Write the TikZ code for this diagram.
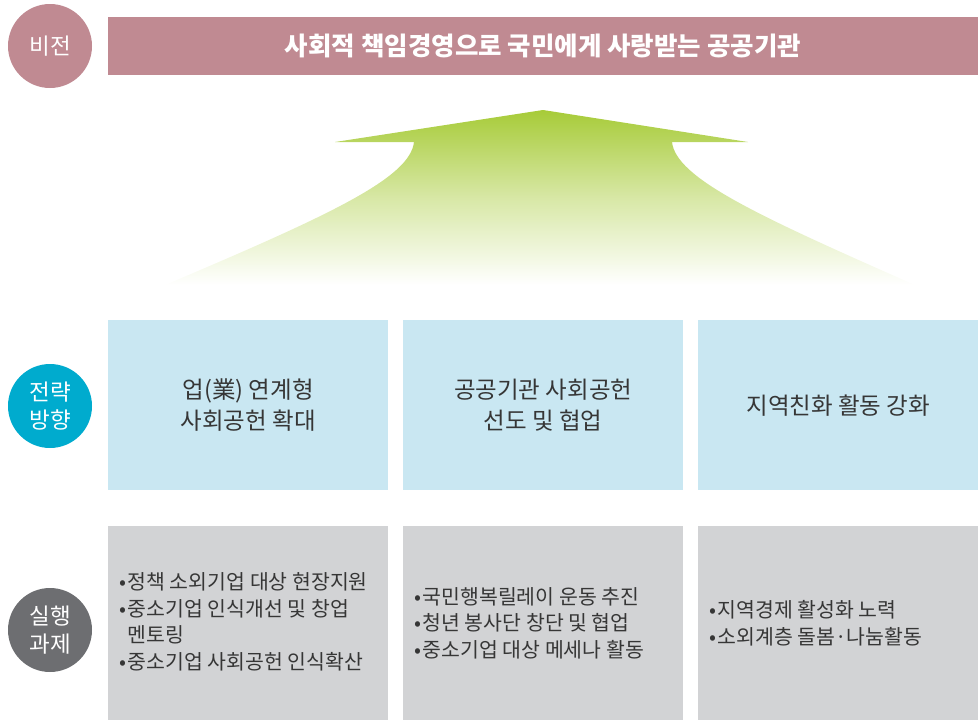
\documentclass[tikz,border=0pt]{standalone}
\usepackage{fontspec}
\setmainfont{Noto Sans CJK KR}
\begin{document}
\definecolor{visioncol}{HTML}{C08A92}
\definecolor{bluecirc}{HTML}{00ABCE}
\definecolor{bluebox}{HTML}{C9E7F2}
\definecolor{graybox}{HTML}{D2D3D5}
\definecolor{graycirc}{HTML}{6D6E71}
\definecolor{txtcol}{HTML}{363636}
\definecolor{arrowgreen}{HTML}{A7CB38}
\newcommand{\bul}{•\hspace{1.5pt}}
\begin{tikzpicture}[x=1pt,y=-1pt,
  circlab/.style={circle, minimum size=84pt, inner sep=0pt, text=white, font=\fontsize{22.5}{27.5}\selectfont, align=center},
  stratbox/.style={anchor=north west, fill=bluebox, minimum width=280pt, minimum height=170pt, inner sep=0pt},
  taskbox/.style={anchor=north west, fill=graybox, minimum width=280pt, minimum height=194pt, inner sep=0pt},
  strattext/.style={text=txtcol, font=\fontsize{23.5}{31}\selectfont, align=center},
  tasktext/.style={anchor=west, text=txtcol, font=\fontsize{20.5}{26.5}\selectfont, align=left, inner sep=0pt}
]
\useasboundingbox (0,0) rectangle (978,720);
% vision row
\node[circlab, fill=visioncol] (vis) at (50,46) {비전};
\node[anchor=north west, fill=visioncol, minimum width=870pt, minimum height=58pt, inner sep=0pt] (visbar) at (108,17) {};
\node[text=white, font=\fontsize{25.5}{30}\selectfont\bfseries] (vistext) at (543,46) {사회적 책임경영으로 국민에게 사랑받는 공공기관};
% arrow
\shade[top color=arrowgreen, bottom color=white, middle color=arrowgreen!45!white]
  (543,110) -- (748,142) -- (672,142)
  .. controls (676,178) and (756,215) .. (915,285)
  -- (165,285)
  .. controls (330,215) and (410,178) .. (414,142)
  -- (335,142) -- cycle;
% strategy row
\node[circlab, fill=bluecirc] (strat) at (50,406) {전략\\방향};
\node[stratbox] (s1) at (108,320) {};
\node[stratbox] (s2) at (403,320) {};
\node[stratbox] (s3) at (698,320) {};
\node[strattext] (s1t) at (s1.center) {업(業) 연계형\\사회공헌 확대};
\node[strattext] (s2t) at (s2.center) {공공기관 사회공헌\\선도 및 협업};
\node[strattext] (s3t) at (s3.center) {지역친화 활동 강화};
% task row
\node[circlab, fill=graycirc] (task) at (50,630) {실행\\과제};
\node[taskbox] (t1) at (108,526) {};
\node[taskbox] (t2) at (403,526) {};
\node[taskbox] (t3) at (698,526) {};
\node[tasktext] (t1t) at (119,622) {\bul 정책 소외기업 대상 현장지원\\\bul 중소기업 인식개선 및 창업\\\phantom{\bul}멘토링\\\bul 중소기업 사회공헌 인식확산};
\node[tasktext] (t2t) at (414,623) {\bul 국민행복릴레이 운동 추진\\\bul 청년 봉사단 창단 및 협업\\\bul 중소기업 대상 메세나 활동};
\node[tasktext] (t3t) at (709,623) {\bul 지역경제 활성화 노력\\\bul 소외계층 돌봄·나눔활동};
\end{tikzpicture}
\end{document}
